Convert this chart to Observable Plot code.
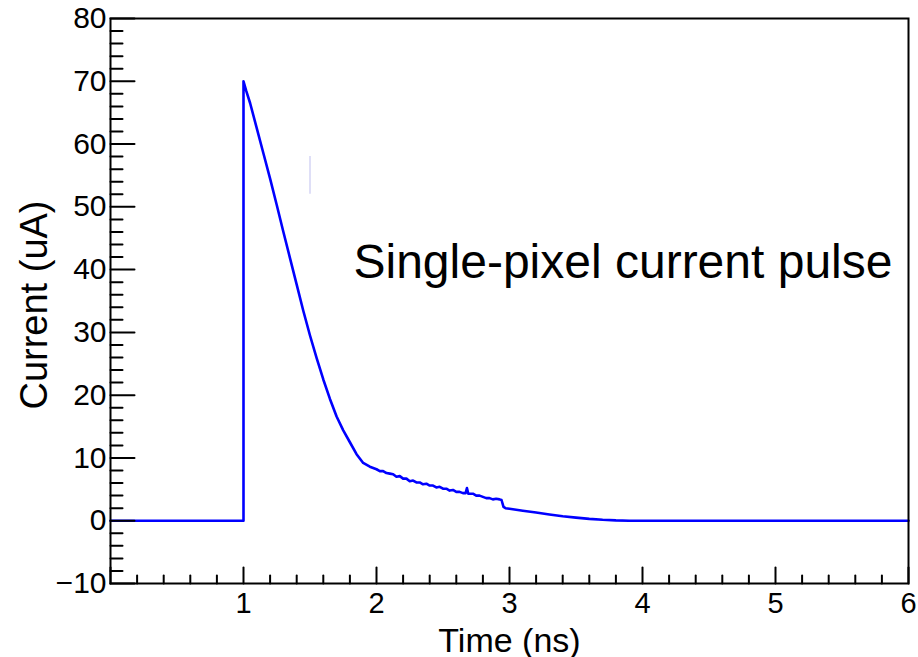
<!DOCTYPE html>
<html>
<head>
<meta charset="utf-8">
<script src="https://cdn.jsdelivr.net/npm/d3@7"></script>
<script src="https://cdn.jsdelivr.net/npm/@observablehq/plot@0.6"></script>
<style>
  html, body { margin: 0; padding: 0; background: #fff; }
  svg { display: block; }
</style>
</head>
<body>
<div id="chart"></div>
<script>
// Time (ns)
const time = [0, 1.0, 1.0, 1.02, 1.05, 1.1, 1.15, 1.2, 1.25, 1.3, 1.35, 1.4, 1.45, 1.5, 1.55, 1.6, 1.65, 1.7, 1.75, 1.8, 1.85, 1.9, 1.95,
  2.0, 2.025, 2.05, 2.075, 2.1, 2.125, 2.15, 2.175, 2.2, 2.225, 2.25, 2.275, 2.3, 2.325, 2.35, 2.375, 2.4, 2.425, 2.45, 2.475,
  2.5, 2.525, 2.55, 2.575, 2.6, 2.625, 2.65, 2.67, 2.68, 2.69, 2.7, 2.725, 2.75, 2.775, 2.8, 2.825, 2.85, 2.875, 2.9, 2.925, 2.94,
  2.955, 2.97, 3.0, 3.1, 3.2, 3.3, 3.4, 3.5, 3.6, 3.7, 3.8, 3.9, 4.0, 5.0, 6.0];
// Current (uA)
const current = [0, 0, 70, 68.5, 66.5, 62.5, 58.5, 54.5, 50.3, 46.0, 41.8, 37.6, 33.4, 29.5, 25.9, 22.5, 19.4, 16.6, 14.4, 12.5, 10.6, 9.2, 8.6,
  8.2, 7.9, 7.9, 7.6, 7.5, 7.4, 7.0, 7.1, 6.7, 6.7, 6.3, 6.4, 6.1, 6.1, 5.8, 5.9, 5.6, 5.6, 5.3, 5.4,
  5.1, 5.1, 4.8, 4.9, 4.6, 4.6, 4.4, 4.4, 5.2, 4.3, 4.3, 4.3, 4.0, 4.0, 3.8, 3.6, 3.6, 3.4, 3.5, 3.4, 3.3,
  2.2, 2.0, 1.9, 1.6, 1.3, 1.0, 0.7, 0.5, 0.3, 0.15, 0.05, 0, 0, 0, 0];

// faint artifact segment seen in the picture
const artifact = [{t: 1.5, lo: 52, hi: 58}];

const xTickLabels = [1, 2, 3, 4, 5, 6];
const yTickLabels = [-10, 0, 10, 20, 30, 40, 50, 60, 70, 80];
const xMinor = d3.range(0, 6.001, 0.2).map(d => +d.toFixed(1)).filter(d => !Number.isInteger(d));
const yMinor = d3.range(-10, 80.001, 2).filter(d => d % 10 !== 0);
const xMajor = [0, 1, 2, 3, 4, 5, 6];

const annotations = [{t: 1.827, v: 41.1, text: "Single-pixel current pulse"}];
const xTitle = "Time (ns)";
const yTitle = "Current (uA)";

const pulse = time.map((t, i) => ({t, v: current[i]}));
const font = "'Liberation Sans', Arial, Helvetica, sans-serif";
const tickShape = {draw(ctx, l) { ctx.moveTo(0, 0); ctx.lineTo(0, -l); }};
const fmt = d => d < 0 ? "\u2212" + Math.abs(d) : String(d);

const chart = Plot.plot({
  width: 918,
  height: 657,
  marginLeft: 110,
  marginRight: 10,
  marginTop: 18,
  marginBottom: 74,
  style: {fontFamily: font, background: "#fff", color: "#000"},
  x: {domain: [0, 6], axis: null},
  y: {domain: [-10, 80], axis: null},
  marks: [
    Plot.ruleX(artifact, {x: "t", y1: "lo", y2: "hi", stroke: "#d4d4f4", strokeWidth: 1.5}),
    Plot.line(pulse, {x: "t", y: "v", stroke: "#0000ff", strokeWidth: 2.6, curve: "linear"}),
    Plot.frame({stroke: "#000", strokeWidth: 2}),
    // y ticks (inward)
    Plot.vector(yTickLabels, {y: d => d, frameAnchor: "left", rotate: 90, length: 24, anchor: "start", stroke: "#000", strokeWidth: 2, shape: tickShape}),
    Plot.vector(yMinor, {y: d => d, frameAnchor: "left", rotate: 90, length: 12, anchor: "start", stroke: "#000", strokeWidth: 2, shape: tickShape}),
    // x ticks (inward)
    Plot.vector(xMajor, {x: d => d, frameAnchor: "bottom", rotate: 0, length: 16, anchor: "start", stroke: "#000", strokeWidth: 2, shape: tickShape}),
    Plot.vector(xMinor, {x: d => d, frameAnchor: "bottom", rotate: 0, length: 8, anchor: "start", stroke: "#000", strokeWidth: 2, shape: tickShape}),
    // tick labels
    Plot.text(yTickLabels, {y: d => d, text: fmt, frameAnchor: "left", dx: -4, textAnchor: "end", fontSize: 30, fill: "#000"}),
    Plot.text(xTickLabels, {x: d => d, text: fmt, frameAnchor: "bottom", lineAnchor: "top", dy: 9, textAnchor: "middle", fontSize: 29, fill: "#000"}),
    // titles
    Plot.text([xTitle], {text: d => d, frameAnchor: "bottom", dy: 68, fontSize: 34, textAnchor: "middle", fill: "#000"}),
    Plot.text([yTitle], {text: d => d, frameAnchor: "left", dx: -76, dy: 4, rotate: -90, fontSize: 38, textAnchor: "middle", fill: "#000"}),
    Plot.text(annotations, {x: "t", y: "v", text: "text", fontSize: 48, textAnchor: "start", fill: "#000"})
  ]
});
document.getElementById("chart").appendChild(chart);
</script>
</body>
</html>
